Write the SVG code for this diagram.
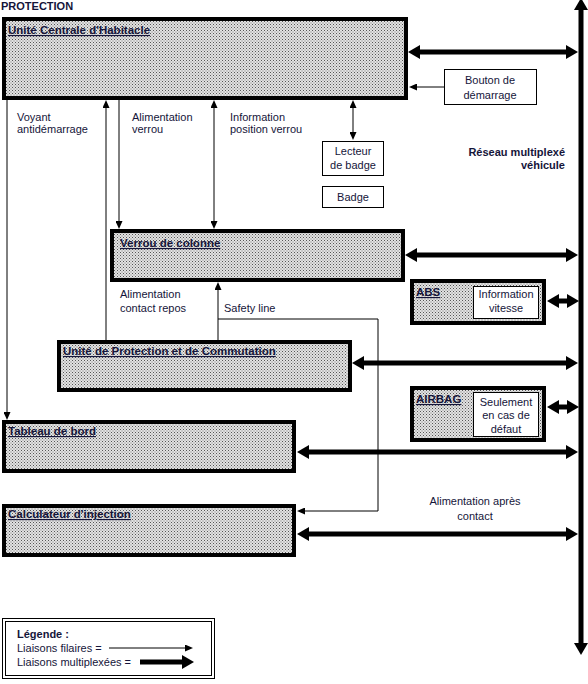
<svg xmlns="http://www.w3.org/2000/svg" width="588" height="684" viewBox="0 0 588 684">
<style>
text{font-family:"Liberation Sans",Arial,sans-serif;font-size:11px;fill:#15153a}
.t{font-weight:bold;text-decoration:underline;font-size:11.5px}
.b{font-weight:bold}
.c{text-anchor:middle}
.box{fill:url(#dots);stroke:#000;stroke-width:4}
.wb{fill:#fff;stroke:#000;stroke-width:1}
.th{stroke:#000;stroke-width:1;fill:none}
.tk{stroke:#000;stroke-width:5;fill:none}
</style>
<defs>
<pattern id="dots" width="3" height="3" patternUnits="userSpaceOnUse">
<rect width="3" height="3" fill="#e2e2e2"/>
<rect x="0" y="0" width="1" height="1" fill="#555"/>
<rect x="1.5" y="1.5" width="1" height="1" fill="#777"/>
</pattern>
<marker id="mt" markerUnits="userSpaceOnUse" markerWidth="8" markerHeight="7" refX="1" refY="3.5" orient="auto-start-reverse"><path d="M0,0 L8,3.5 L0,7 z" fill="#000"/></marker>
<marker id="mb" markerUnits="userSpaceOnUse" markerWidth="12" markerHeight="14" refX="1" refY="7" orient="auto-start-reverse"><path d="M0,0 L12,7 L0,14 z" fill="#000"/></marker>
</defs>
<rect width="588" height="684" fill="#fff"/>
<text x="1" y="10" class="b" font-size="10">PROTECTION</text>

<g id="uch"><rect class="box" x="4" y="19" width="402" height="79"/><text class="t" x="8" y="34">Unité Centrale d'Habitacle</text></g>
<g id="bouton"><rect class="wb" x="444.5" y="69.5" width="92" height="35"/><text class="c" x="490" y="84">Bouton de</text><text class="c" x="490" y="99">démarrage</text></g>
<g id="lecteur"><rect class="wb" x="322.5" y="141.5" width="61" height="34"/><text class="c" x="353" y="155">Lecteur</text><text class="c" x="353" y="169">de badge</text></g>
<g id="badge"><rect class="wb" x="322.5" y="186.5" width="61" height="21"/><text class="c" x="353" y="201">Badge</text></g>
<g id="verrou"><rect class="box" x="112" y="231" width="291" height="49"/><text class="t" x="120" y="247">Verrou de colonne</text></g>
<g id="abs"><rect class="box" x="412" y="281" width="132" height="42"/><text class="t" x="416" y="296">ABS</text><rect class="wb" x="473.5" y="286.5" width="65" height="32"/><text class="c" x="506" y="298">Information</text><text class="c" x="506" y="312">vitesse</text></g>
<g id="upc"><rect class="box" x="59" y="342" width="291" height="48"/><text class="t" x="63" y="355">Unité de Protection et de Commutation</text></g>
<g id="airbag"><rect class="box" x="412" y="388" width="132" height="52"/><text class="t" x="416" y="403">AIRBAG</text><rect class="wb" x="473.5" y="392.5" width="65" height="44"/><text class="c" x="506" y="406">Seulement</text><text class="c" x="506" y="419">en cas de</text><text class="c" x="506" y="433">défaut</text></g>
<g id="tableau"><rect class="box" x="4" y="422" width="290" height="49"/><text class="t" x="8" y="435">Tableau de bord</text></g>
<g id="calc"><rect class="box" x="4" y="506" width="290" height="49"/><text class="t" x="8" y="518">Calculateur d'injection</text></g>

<g id="connectors">
<line class="tk" x1="581" y1="9" x2="581" y2="644" marker-start="url(#mb)" marker-end="url(#mb)"/>
<line class="tk" x1="419" y1="52" x2="567" y2="52" marker-start="url(#mb)" marker-end="url(#mb)"/>
<line class="tk" x1="416" y1="255" x2="567" y2="255" marker-start="url(#mb)" marker-end="url(#mb)"/>
<line class="tk" x1="558" y1="301" x2="568" y2="301" marker-start="url(#mb)" marker-end="url(#mb)"/>
<line class="tk" x1="363" y1="363" x2="567" y2="363" marker-start="url(#mb)" marker-end="url(#mb)"/>
<line class="tk" x1="558" y1="407" x2="568" y2="407" marker-start="url(#mb)" marker-end="url(#mb)"/>
<line class="tk" x1="308" y1="452" x2="567" y2="452" marker-start="url(#mb)" marker-end="url(#mb)"/>
<line class="tk" x1="308" y1="534" x2="567" y2="534" marker-start="url(#mb)" marker-end="url(#mb)"/>
<line class="th" x1="444" y1="87" x2="416" y2="87" marker-end="url(#mt)"/>
<line class="th" x1="353" y1="107" x2="353" y2="133" marker-start="url(#mt)" marker-end="url(#mt)"/>
<line class="th" x1="7" y1="100" x2="7" y2="413" marker-end="url(#mt)"/>
<line class="th" x1="106" y1="342" x2="106" y2="107" marker-end="url(#mt)"/>
<line class="th" x1="119" y1="100" x2="119" y2="222" marker-end="url(#mt)"/>
<line class="th" x1="214" y1="107" x2="214" y2="222" marker-start="url(#mt)" marker-end="url(#mt)"/>
<line class="th" x1="218" y1="342" x2="218" y2="289" marker-end="url(#mt)"/>
<polyline class="th" points="218,319 378,319 378,511 304,511" marker-end="url(#mt)"/>
</g>

<text x="17" y="121">Voyant</text><text x="17" y="133">antidémarrage</text>
<text x="132" y="121">Alimentation</text><text x="132" y="133">verrou</text>
<text x="230" y="121">Information</text><text x="230" y="133">position verrou</text>
<text x="565" y="156" class="b" text-anchor="end">Réseau multiplexé</text>
<text x="565" y="169" class="b" text-anchor="end">véhicule</text>
<text x="120" y="298">Alimentation</text><text x="120" y="312">contact repos</text>
<text x="224" y="312">Safety line</text>
<text class="c" x="475" y="505">Alimentation après</text>
<text class="c" x="475" y="520">contact</text>

<g id="legend">
<rect x="2.5" y="618.5" width="212" height="60" fill="#fff" stroke="#000" stroke-width="1"/>
<rect x="5.5" y="621.5" width="206" height="54" fill="none" stroke="#000" stroke-width="1"/>
<text x="17" y="638" class="b">Légende :</text>
<text x="17" y="652">Liaisons filaires =</text>
<text x="17" y="666">Liaisons multiplexées =</text>
<line class="th" x1="109" y1="648" x2="186" y2="648" marker-end="url(#mt)"/>
<line class="tk" x1="140" y1="662" x2="183" y2="662" marker-end="url(#mb)"/>
</g>
</svg>
